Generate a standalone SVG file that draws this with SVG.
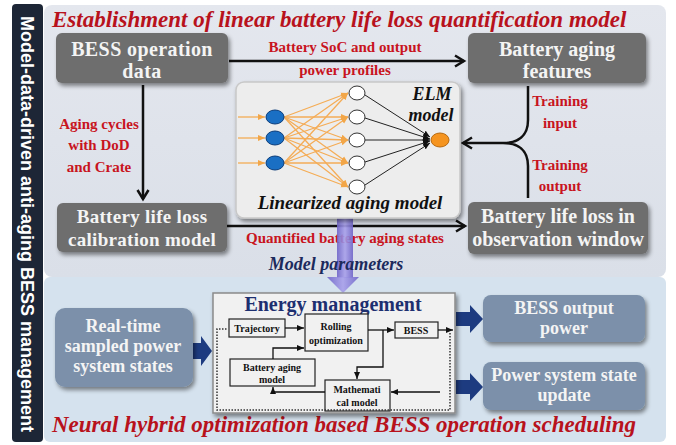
<svg xmlns="http://www.w3.org/2000/svg" width="676" height="445" viewBox="0 0 676 445">
<defs>
<style>
.ttl{font-family:"Liberation Serif",serif;font-weight:bold;font-style:italic;fill:#b8121c}
.bx{font-family:"Liberation Serif",serif;font-weight:bold;fill:#f4f4f4;text-anchor:middle}
.lbl{font-family:"Liberation Serif",serif;font-weight:bold;fill:#c8141e;text-anchor:middle;font-size:15px}
.it{font-family:"Liberation Serif",serif;font-weight:bold;font-style:italic;fill:#111;text-anchor:middle}
.sm{font-family:"Liberation Serif",serif;font-weight:bold;fill:#111;text-anchor:middle;font-size:10px}
.gray{fill:#6e6e6e}
.blue{fill:#7b90aa}
.conn{stroke:#111;stroke-width:2.5;fill:none}
.thin{stroke:#111;stroke-width:1.3;fill:none}
.dot{stroke:#333;stroke-width:1.5;fill:none;stroke-dasharray:1.5 1.5}
.org{stroke:#f6a13c;stroke-width:1.3;opacity:0.85}
.blk{stroke:#222;stroke-width:1}
.barrow{fill:#1d3b80}
</style>
<filter id="sh" x="-10%" y="-10%" width="125%" height="135%">
<feDropShadow dx="2" dy="3" stdDeviation="2" flood-color="#000" flood-opacity="0.45"/>
</filter>
<marker id="ah" markerWidth="14" markerHeight="14" refX="11" refY="7" orient="auto" markerUnits="userSpaceOnUse">
<path d="M2,1.5 L11,7 L2,12.5" fill="none" stroke="#111" stroke-width="2.5"/>
</marker>
<marker id="as" markerWidth="8" markerHeight="8" refX="7" refY="4" orient="auto" markerUnits="userSpaceOnUse">
<path d="M0,1 L7,4 L0,7 Z" fill="#111"/>
</marker>
<marker id="ao" markerWidth="8" markerHeight="8" refX="7" refY="4" orient="auto" markerUnits="userSpaceOnUse">
<path d="M0,1 L7,4 L0,7 Z" fill="#f39a2c"/>
</marker>
<marker id="ab" markerWidth="8" markerHeight="8" refX="7" refY="4" orient="auto" markerUnits="userSpaceOnUse">
<path d="M0,1 L7,4 L0,7 Z" fill="#111"/>
</marker>
<linearGradient id="pg" x1="0" y1="0" x2="1" y2="0">
<stop offset="0" stop-color="#6f64c8"/>
<stop offset="0.5" stop-color="#a8a0ea"/>
<stop offset="1" stop-color="#6f64c8"/>
</linearGradient>
<linearGradient id="tp" x1="0" y1="0" x2="0" y2="1">
<stop offset="0" stop-color="#e4e7ee"/>
<stop offset="1" stop-color="#dadfe8"/>
</linearGradient>
</defs>

<rect width="676" height="445" fill="#ffffff"/>

<!-- panels -->
<g id="panels">
<rect x="44" y="5" width="622" height="272" rx="8" fill="url(#tp)"/>
<rect x="44" y="277" width="622" height="165" rx="6" fill="#d5e2ee"/>
<rect x="12" y="4" width="31" height="438" rx="4" fill="#1d2636"/>
<text transform="translate(21,224) rotate(90)" text-anchor="middle" font-family="Liberation Sans, sans-serif" font-weight="bold" font-size="18" fill="#ffffff">Model-data-driven anti-aging BESS management</text>
<text class="ttl" x="52" y="27" font-size="23">Establishment of linear battery life loss quantification model</text>
<text class="ttl" x="52" y="432" font-size="23">Neural hybrid optimization based BESS operation scheduling</text>
</g>

<!-- connectors -->
<g id="connectors">
<line class="conn" x1="229" y1="61" x2="464" y2="61" marker-end="url(#ah)"/>
<line class="conn" x1="143" y1="85" x2="143" y2="199" marker-end="url(#ah)"/>
<line class="conn" x1="227" y1="226" x2="465" y2="226" marker-end="url(#ah)"/>
<path class="conn" d="M528,86 L528,120 C528,136 518,143 503,143 C518,143 528,150 528,166 L528,198"/>
<line class="conn" x1="503" y1="143" x2="463" y2="143" marker-end="url(#ah)"/>
<text class="lbl" x="345" y="52">Battery SoC and output</text>
<text class="lbl" x="345" y="75">power profiles</text>
<text class="lbl" x="99" y="129">Aging cycles</text>
<text class="lbl" x="99" y="150">with DoD</text>
<text class="lbl" x="99" y="172">and Crate</text>
<text class="lbl" x="560" y="106">Training</text>
<text class="lbl" x="560" y="128">input</text>
<text class="lbl" x="560" y="170">Training</text>
<text class="lbl" x="560" y="191">output</text>
<text class="lbl" x="345" y="243">Quantified battery aging states</text>
<!-- purple arrow -->
<rect x="337" y="218" width="16" height="60" fill="url(#pg)" opacity="0.9"/>
<polygon points="327,277 359,277 343,293" fill="url(#pg)" opacity="0.9"/>
<text x="336" y="270" text-anchor="middle" font-family="Liberation Serif, serif" font-weight="bold" font-style="italic" font-size="18" fill="#1c2a5c">Model parameters</text>
<!-- block arrows -->
<polygon class="barrow" points="192,343 201,343 201,336 212,351 201,366 201,359 192,359"/>
<polygon class="barrow" points="456,312 470,312 470,305 483,319 470,333 470,326 456,326"/>
<polygon class="barrow" points="456,380 470,380 470,373 483,387 470,401 470,394 456,394"/>
</g>

<!-- nodes -->
<g id="bess-data">
<rect class="gray" x="56" y="33" width="172" height="50" rx="6" filter="url(#sh)"/>
<text class="bx" x="142" y="56" font-size="20" letter-spacing="0.4">BESS operation</text>
<text class="bx" x="142" y="78" font-size="20" letter-spacing="0.4">data</text>
</g>
<g id="aging-features">
<rect class="gray" x="468" y="33" width="178" height="50" rx="6" filter="url(#sh)"/>
<text class="bx" x="557" y="56" font-size="20">Battery aging</text>
<text class="bx" x="557" y="78" font-size="20">features</text>
</g>
<g id="calibration">
<rect class="gray" x="57" y="203" width="170" height="49" rx="6" filter="url(#sh)"/>
<text class="bx" x="142" y="223" font-size="19" letter-spacing="0.3">Battery life loss</text>
<text class="bx" x="142" y="246" font-size="19" letter-spacing="0.3">calibration model</text>
</g>
<g id="observation">
<rect class="gray" x="468" y="202" width="180" height="52" rx="6" filter="url(#sh)"/>
<text class="bx" x="558" y="223" font-size="20">Battery life loss in</text>
<text class="bx" x="558" y="246" font-size="20">observation window</text>
</g>

<g id="elm">
<rect x="236" y="82" width="224" height="136" rx="8" fill="#ededed" stroke="#c8c8c8" stroke-width="1.5" filter="url(#sh)"/>
<g class="org">
<line x1="238" y1="117" x2="265" y2="117" marker-end="url(#ao)"/>
<line x1="238" y1="138" x2="265" y2="138" marker-end="url(#ao)"/>
<line x1="238" y1="163" x2="265" y2="163" marker-end="url(#ao)"/>
<line x1="284" y1="117" x2="348" y2="93" marker-end="url(#ao)"/>
<line x1="284" y1="117" x2="348" y2="117" marker-end="url(#ao)"/>
<line x1="284" y1="117" x2="348" y2="140" marker-end="url(#ao)"/>
<line x1="284" y1="117" x2="348" y2="163" marker-end="url(#ao)"/>
<line x1="284" y1="117" x2="348" y2="187" marker-end="url(#ao)"/>
<line x1="284" y1="138" x2="348" y2="93" marker-end="url(#ao)"/>
<line x1="284" y1="138" x2="348" y2="117" marker-end="url(#ao)"/>
<line x1="284" y1="138" x2="348" y2="140" marker-end="url(#ao)"/>
<line x1="284" y1="138" x2="348" y2="163" marker-end="url(#ao)"/>
<line x1="284" y1="138" x2="348" y2="187" marker-end="url(#ao)"/>
<line x1="284" y1="163" x2="348" y2="93" marker-end="url(#ao)"/>
<line x1="284" y1="163" x2="348" y2="117" marker-end="url(#ao)"/>
<line x1="284" y1="163" x2="348" y2="140" marker-end="url(#ao)"/>
<line x1="284" y1="163" x2="348" y2="163" marker-end="url(#ao)"/>
<line x1="284" y1="163" x2="348" y2="187" marker-end="url(#ao)"/>
</g>
<g class="blk">
<line x1="365" y1="95" x2="430" y2="137" marker-end="url(#ab)"/>
<line x1="365" y1="118" x2="430" y2="139" marker-end="url(#ab)"/>
<line x1="365" y1="140" x2="430" y2="140" marker-end="url(#ab)"/>
<line x1="365" y1="162" x2="430" y2="141" marker-end="url(#ab)"/>
<line x1="365" y1="185" x2="430" y2="143" marker-end="url(#ab)"/>
</g>
<g fill="#1a6fc4" stroke="#0c3d7a" stroke-width="1">
<ellipse cx="275" cy="117" rx="9" ry="7"/>
<ellipse cx="275" cy="138" rx="9" ry="7"/>
<ellipse cx="275" cy="163" rx="9" ry="7"/>
</g>
<g fill="#ffffff" stroke="#333" stroke-width="1">
<ellipse cx="357" cy="93" rx="8" ry="7"/>
<ellipse cx="357" cy="117" rx="8" ry="7"/>
<ellipse cx="357" cy="140" rx="8" ry="7"/>
<ellipse cx="357" cy="163" rx="8" ry="7"/>
<ellipse cx="357" cy="187" rx="8" ry="7"/>
</g>
<ellipse cx="440" cy="140" rx="9" ry="7" fill="#f5941f" stroke="#b86a10" stroke-width="1"/>
<text class="it" x="432" y="100" font-size="18">ELM</text>
<text class="it" x="431" y="121" font-size="18">model</text>
<text class="it" x="350" y="209" font-size="19">Linearized aging model</text>
</g>

<g id="realtime">
<rect class="blue" x="55" y="308" width="138" height="79" rx="10" filter="url(#sh)"/>
<text class="bx" x="123" y="332" font-size="18">Real-time</text>
<text class="bx" x="123" y="352" font-size="18">sampled power</text>
<text class="bx" x="123" y="372" font-size="18">system states</text>
</g>
<g id="bess-output">
<rect class="blue" x="483" y="295" width="162" height="47" rx="8" filter="url(#sh)"/>
<text class="bx" x="564" y="314" font-size="18">BESS output</text>
<text class="bx" x="564" y="334" font-size="18">power</text>
</g>
<g id="state-update">
<rect class="blue" x="483" y="362" width="162" height="48" rx="8" filter="url(#sh)"/>
<text class="bx" x="564" y="381" font-size="18">Power system state</text>
<text class="bx" x="564" y="401" font-size="18">update</text>
</g>

<g id="energy-management">
<rect x="213" y="293" width="242" height="120" fill="#f1f1f1" stroke="#8a8a8a" stroke-width="1.5" filter="url(#sh)"/>
<text x="333" y="311" text-anchor="middle" font-family="Liberation Serif, serif" font-weight="bold" font-size="20" fill="#1d2f70">Energy management</text>
<g fill="#f1f1f1" stroke="#222" stroke-width="1.2">
<rect x="229" y="319" width="56" height="18"/>
<rect x="305" y="314" width="63" height="37"/>
<rect x="395" y="322" width="43" height="16"/>
<rect x="230" y="359" width="85" height="27"/>
<rect x="325" y="380" width="65" height="31"/>
</g>
<text class="sm" x="257" y="332">Trajectory</text>
<text class="sm" x="336" y="330">Rolling</text>
<text class="sm" x="336" y="344">optimization</text>
<text class="sm" x="416" y="334">BESS</text>
<text class="sm" x="272" y="371">Battery aging</text>
<text class="sm" x="272" y="383">model</text>
<text class="sm" x="357" y="393">Mathemati</text>
<text class="sm" x="357" y="406">cal model</text>
<g class="thin">
<line x1="285" y1="328" x2="304" y2="328" marker-end="url(#as)"/>
<line x1="368" y1="330" x2="394" y2="330" marker-end="url(#as)"/>
<path d="M383,330 L383,367 L357,367 L357,379" marker-end="url(#as)"/>
<path d="M273,359 L273,348 L304,348" marker-end="url(#as)"/>
<path d="M325,392 L273,392 L273,387" marker-end="url(#as)"/>
<line x1="440" y1="392" x2="391" y2="392" marker-end="url(#as)"/>
<line x1="438" y1="330" x2="453" y2="330" marker-end="url(#as)"/>
</g>
<path class="dot" d="M450,333 L450,410 L217,410 L217,329 L228,329"/>
</g>
</svg>
